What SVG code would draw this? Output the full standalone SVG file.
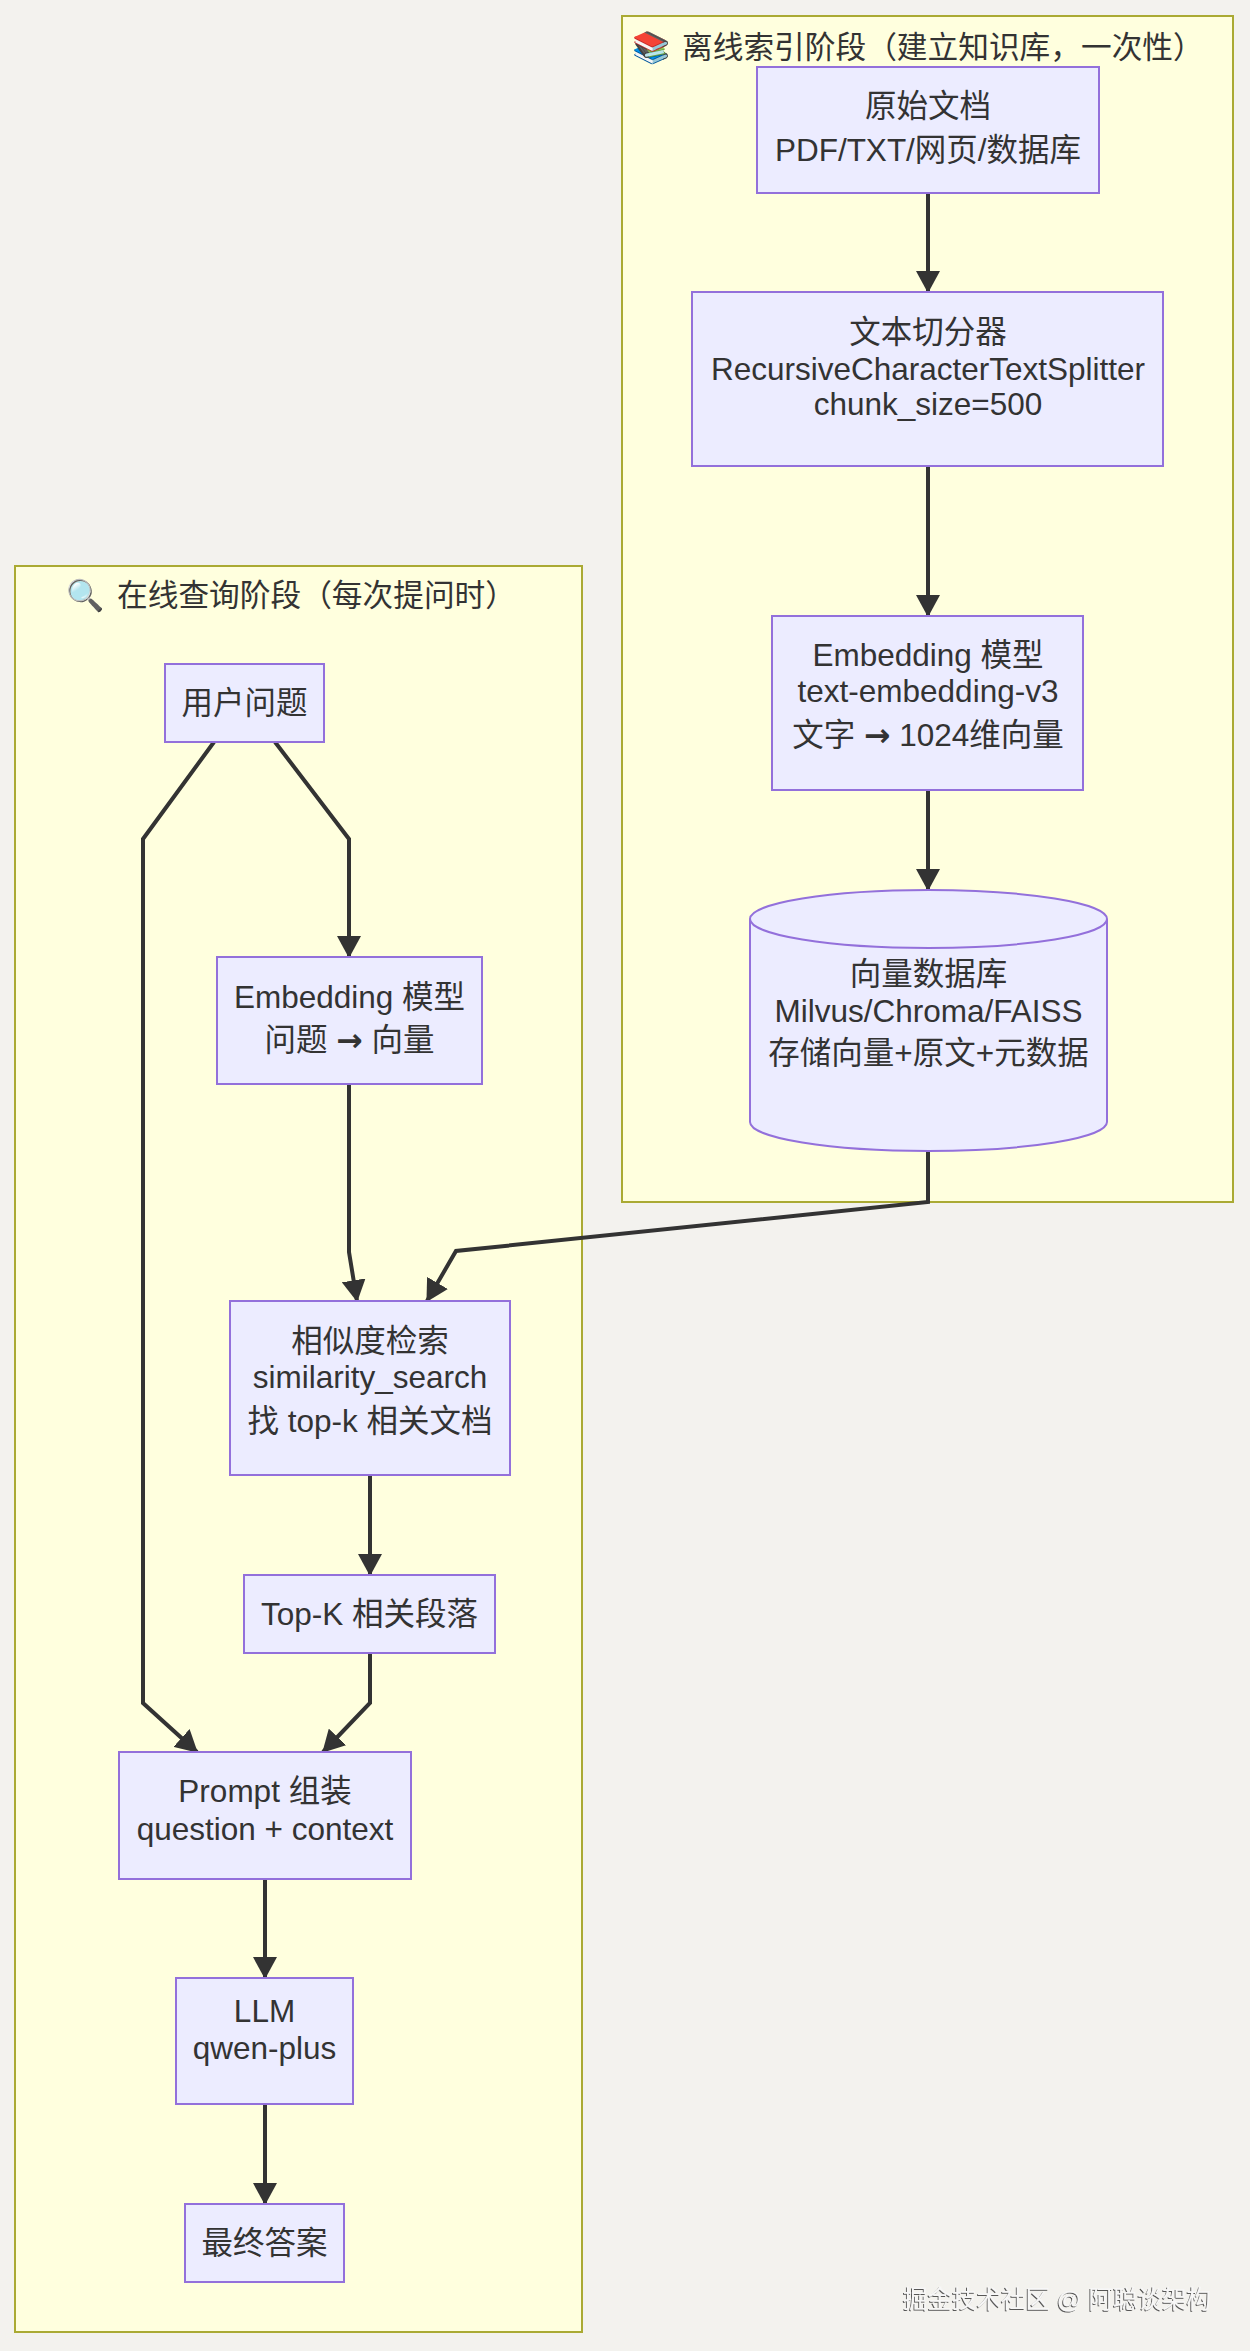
<svg xmlns="http://www.w3.org/2000/svg" width="1250" height="2351" viewBox="0 0 1250 2351">
<defs>
<style>
.bg{fill:#f3f2ee}
.cluster{fill:#ffffde;stroke:#aaaa33;stroke-width:2}
.node{fill:#ececff;stroke:#9370db;stroke-width:2}
.t{font-family:"Liberation Sans","Noto Sans CJK SC",sans-serif;font-size:31.5px;fill:#333;text-anchor:middle}
.arr{font-family:"DejaVu Sans",sans-serif;font-weight:bold}
.title{font-family:"Liberation Sans","Noto Sans CJK SC","Noto Color Emoji","DejaVu Sans",sans-serif;font-size:30.7px;fill:#333}
.edge{fill:none;stroke:#333;stroke-width:4;stroke-linejoin:miter}
.wm{font-family:"Liberation Sans","Noto Sans CJK SC",sans-serif;font-size:24.5px;fill:#f7f7f7}
</style>
<marker id="arrow" viewBox="0 0 10 10" refX="9.5" refY="5" markerUnits="userSpaceOnUse" markerWidth="22" markerHeight="24" orient="auto" preserveAspectRatio="none">
<path d="M0,0 L10,5 L0,10 z" fill="#333"/>
</marker>
<filter id="emboss" x="-5%" y="-20%" width="110%" height="140%">
<feDropShadow dx="-1" dy="1" stdDeviation="0.6" flood-color="#444" flood-opacity="0.9"/>
</filter>
</defs>
<rect class="bg" x="0" y="0" width="1250" height="2351"/>

<g id="cluster-offline">
<rect class="cluster" x="622" y="16" width="611" height="1186"/>
<text class="title" y="58"><tspan x="632">📚</tspan><tspan x="682">离线索引阶段（建立知识库，一次性）</tspan></text>
</g>
<g id="cluster-online">
<rect class="cluster" x="15" y="566" width="567" height="1766"/>
<text class="title" y="606"><tspan x="66">🔍</tspan><tspan x="117">在线查询阶段（每次提问时）</tspan></text>
</g>

<g id="edges">
<path class="edge" d="M928,193 L928,292" marker-end="url(#arrow)"/>
<path class="edge" d="M928,466 L928,616" marker-end="url(#arrow)"/>
<path class="edge" d="M928,790 L928,890" marker-end="url(#arrow)"/>
<path class="edge" d="M928,1151 L928,1202 L456,1251 L427,1301" marker-end="url(#arrow)"/>
<path class="edge" d="M275,742 L349,839 L349,957" marker-end="url(#arrow)"/>
<path class="edge" d="M214,742 L143,839 L143,1703 L197,1752" marker-end="url(#arrow)"/>
<path class="edge" d="M349,1084 L349,1252 L357,1301" marker-end="url(#arrow)"/>
<path class="edge" d="M370,1475 L370,1575" marker-end="url(#arrow)"/>
<path class="edge" d="M370,1653 L370,1703 L323,1752" marker-end="url(#arrow)"/>
<path class="edge" d="M265,1879 L265,1978" marker-end="url(#arrow)"/>
<path class="edge" d="M265,2104 L265,2204" marker-end="url(#arrow)"/>
</g>

<g id="node-docs">
<rect class="node" x="757" y="67" width="342" height="126"/>
<text class="t" x="928" y="116.5">原始文档</text>
<text class="t" x="928" y="160.5">PDF/TXT/网页/数据库</text>
</g>
<g id="node-splitter">
<rect class="node" x="692" y="292" width="471" height="174"/>
<text class="t" x="928" y="343">文本切分器</text>
<text class="t" x="928" y="380">RecursiveCharacterTextSplitter</text>
<text class="t" x="928" y="415">chunk_size=500</text>
</g>
<g id="node-embed-offline">
<rect class="node" x="772" y="616" width="311" height="174"/>
<text class="t" x="928" y="666">Embedding 模型</text>
<text class="t" x="928" y="702">text-embedding-v3</text>
<text class="t" x="928" y="745.5">文字 <tspan class="arr">→</tspan> 1024维向量</text>
</g>
<g id="node-vectordb">
<path class="node" d="M750,919 a178.5,29 0 0,0 357,0 a178.5,29 0 0,0 -357,0 l0,203 a178.5,29 0 0,0 357,0 l0,-203"/>
<text class="t" x="928.5" y="985">向量数据库</text>
<text class="t" x="928.5" y="1021.5">Milvus/Chroma/FAISS</text>
<text class="t" x="928.5" y="1064">存储向量+原文+元数据</text>
</g>

<g id="node-question">
<rect class="node" x="165" y="664" width="159" height="78"/>
<text class="t" x="244.5" y="714">用户问题</text>
</g>
<g id="node-embed-online">
<rect class="node" x="217" y="957" width="265" height="127"/>
<text class="t" x="349.5" y="1008">Embedding 模型</text>
<text class="t" x="349.5" y="1051">问题 <tspan class="arr">→</tspan> 向量</text>
</g>
<g id="node-search">
<rect class="node" x="230" y="1301" width="280" height="174"/>
<text class="t" x="370" y="1352">相似度检索</text>
<text class="t" x="370" y="1388">similarity_search</text>
<text class="t" x="370" y="1432">找 top-k 相关文档</text>
</g>
<g id="node-topk">
<rect class="node" x="244" y="1575" width="251" height="78"/>
<text class="t" x="369.5" y="1624.5">Top-K 相关段落</text>
</g>
<g id="node-prompt">
<rect class="node" x="119" y="1752" width="292" height="127"/>
<text class="t" x="265" y="1802">Prompt 组装</text>
<text class="t" x="265" y="1840">question + context</text>
</g>
<g id="node-llm">
<rect class="node" x="176" y="1978" width="177" height="126"/>
<text class="t" x="264.5" y="2022">LLM</text>
<text class="t" x="264.5" y="2059">qwen-plus</text>
</g>
<g id="node-answer">
<rect class="node" x="185" y="2204" width="159" height="78"/>
<text class="t" x="264.5" y="2254">最终答案</text>
</g>

<text class="wm" x="903" y="2308" filter="url(#emboss)">掘金技术社区 @ 阿聪谈架构</text>
</svg>
